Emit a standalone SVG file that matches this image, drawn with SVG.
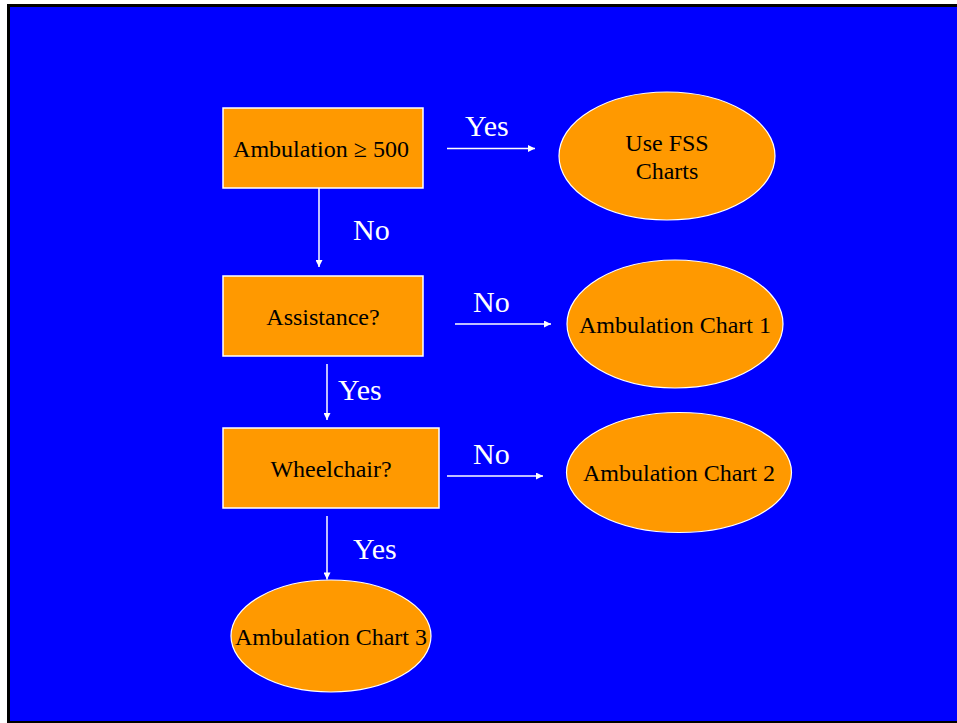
<svg xmlns="http://www.w3.org/2000/svg" width="957" height="723" viewBox="0 0 957 723">
  <defs>
    <style>
      .box { fill: #FF9900; stroke: #FFFFFF; stroke-width: 1.5; }
      .oval { fill: #FF9900; stroke: #FFFFFF; stroke-width: 1.2; }
      .ntext { font-family: "Liberation Serif", "Times New Roman", serif; font-size: 24px; fill: #000000; text-anchor: middle; }
      .ltext { font-family: "Liberation Serif", "Times New Roman", serif; font-size: 30px; fill: #FFFFFF; }
      .conn { stroke: #FFFFFF; stroke-width: 1.5; fill: none; marker-end: url(#arrow); }
    </style>
    <marker id="arrow" viewBox="0 0 10 10" refX="10" refY="5" markerWidth="8" markerHeight="7" markerUnits="userSpaceOnUse" orient="auto">
      <path d="M0,0 L10,5 L0,10 Z" fill="#FFFFFF"/>
    </marker>
  </defs>

  <rect x="0" y="0" width="957" height="723" fill="#FFFFFF"/>
  <rect x="7" y="4" width="960" height="730" fill="#000000"/>
  <rect x="10" y="7" width="957" height="714" fill="#0000FF"/>

  <g id="connectors">
    <line class="conn" x1="447" y1="148.5" x2="535" y2="148.5"/>
    <line class="conn" x1="319" y1="188" x2="319" y2="267"/>
    <line class="conn" x1="455" y1="324" x2="551" y2="324"/>
    <line class="conn" x1="327" y1="364" x2="327" y2="420"/>
    <line class="conn" x1="447" y1="476" x2="543" y2="476"/>
    <line class="conn" x1="327" y1="516" x2="327" y2="579.5"/>
  </g>

  <g id="labels">
    <text class="ltext" x="465" y="136">Yes</text>
    <text class="ltext" x="353" y="240">No</text>
    <text class="ltext" x="473" y="312">No</text>
    <text class="ltext" x="338" y="400">Yes</text>
    <text class="ltext" x="473" y="464">No</text>
    <text class="ltext" x="353" y="559">Yes</text>
  </g>

  <g id="node-ambulation500">
    <rect class="box" x="223" y="108" width="200" height="80"/>
    <text class="ntext" x="321" y="157">Ambulation ≥ 500</text>
  </g>

  <g id="node-usefss">
    <ellipse class="oval" cx="667" cy="156" rx="108" ry="64"/>
    <text class="ntext" x="667" y="151">Use FSS</text>
    <text class="ntext" x="667" y="179">Charts</text>
  </g>

  <g id="node-assistance">
    <rect class="box" x="223" y="276" width="200" height="80"/>
    <text class="ntext" x="323" y="325">Assistance?</text>
  </g>

  <g id="node-chart1">
    <ellipse class="oval" cx="675" cy="324" rx="108" ry="64"/>
    <text class="ntext" x="675" y="333">Ambulation Chart 1</text>
  </g>

  <g id="node-wheelchair">
    <rect class="box" x="223" y="428" width="216" height="80"/>
    <text class="ntext" x="331" y="477">Wheelchair?</text>
  </g>

  <g id="node-chart2">
    <ellipse class="oval" cx="679" cy="472.5" rx="112.5" ry="60"/>
    <text class="ntext" x="679" y="481">Ambulation Chart 2</text>
  </g>

  <g id="node-chart3">
    <ellipse class="oval" cx="331" cy="636" rx="100" ry="56"/>
    <text class="ntext" x="331" y="645">Ambulation Chart 3</text>
  </g>
</svg>
